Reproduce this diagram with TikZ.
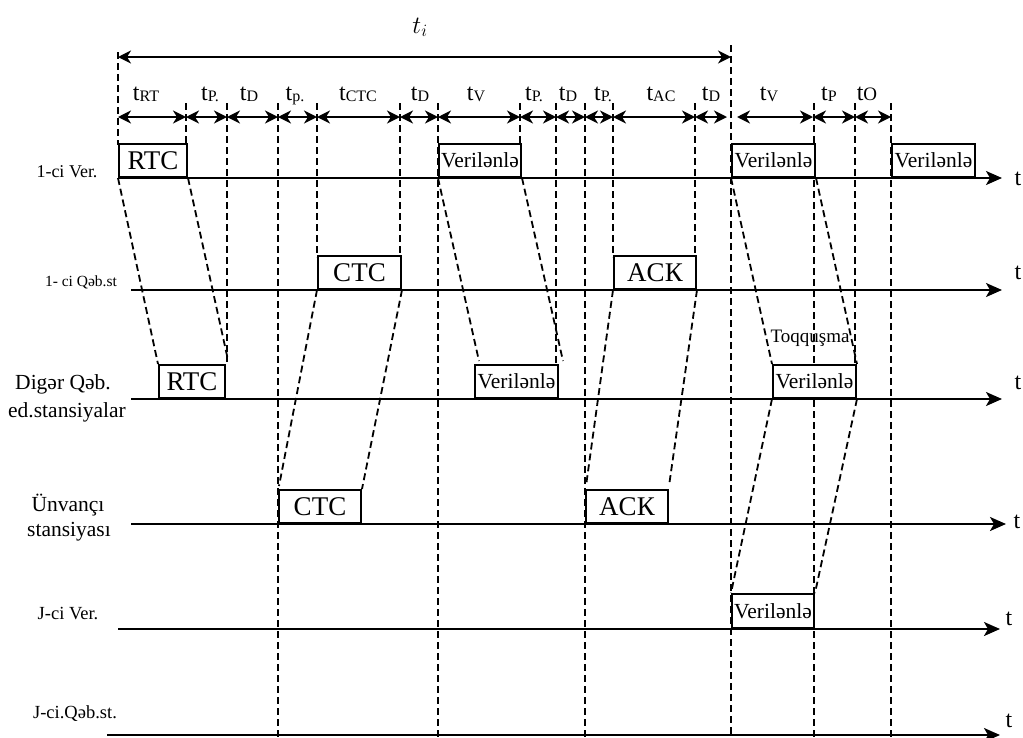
\documentclass[tikz,border=0pt]{standalone}
\usepackage{fontspec}
\setmainfont{Liberation Serif}
\usetikzlibrary{arrows.meta,calc}
\newcommand\myfs[1]{\fontsize{#1}{#1}\selectfont}
\newcommand\mysub[1]{\raisebox{-1.5pt}{\myfs{16}#1}}
\begin{document}
\begin{tikzpicture}[x=1pt,y=-1pt,
  axis/.style={line width=2pt,-{Stealth[length=16pt,width=14pt,inset=4pt]}},
  dim/.style={line width=1.8pt,{Stealth[length=13pt,width=13pt,inset=4pt]}-{Stealth[length=13pt,width=13pt,inset=4pt]}},
  vdash/.style={line width=1.8pt,dash pattern=on 7pt off 4pt},
  box/.style={draw,line width=2pt,fill=white,inner sep=0pt,anchor=south west,minimum height=33pt},
  bigtxt/.style={font=\myfs{27}},
  vtxt/.style={font=\myfs{21.5}},
  toplab/.style={anchor=base,inner sep=0pt,font=\myfs{24}},
  rowlab/.style={anchor=base,inner sep=0pt,align=center},
  tlab/.style={inner sep=0pt,font=\myfs{24}}
]
\useasboundingbox (0,0) rectangle (1023,737);

% vertical dashed guide lines
\foreach \x/\ya/\yb in {118/52/145,186/103/145,227/103/362,278/103/737,317/103/257,400/103/257,438/103/737,520/103/145,556/103/366,585/103/737,613/103/257,695/103/257,731/45/737,814/103/737,855/103/366,891/103/737}
  \draw[vdash] (\x,\ya) -- (\x,\yb);

% time axes
\coordinate (s1) at (118,178); \coordinate (e1) at (1002,178);
\coordinate (s2) at (131,290); \coordinate (e2) at (1002,290);
\coordinate (s3) at (131,399); \coordinate (e3) at (1002,399);
\coordinate (s4) at (131,524); \coordinate (e4) at (1006,524);
\coordinate (s5) at (118,629); \coordinate (e5) at (1000,629);
\coordinate (s6) at (107,735); \coordinate (e6) at (1000,735);
\foreach \i in {1,...,6} \draw[axis] (s\i) -- (e\i);
\node[tlab] (t1) at (1018,179) {t};
\node[tlab] (t2) at (1018,273) {t};
\node[tlab] (t3) at (1018,383) {t};
\node[tlab] (t4) at (1017,522) {t};
\node[tlab] (t5) at (1009,619) {t};
\node[tlab] (t6) at (1009,721) {t};

% boxes
\node[box,bigtxt,minimum width=68pt] (r1) at (118,178) {RTC};
\node[box,vtxt,minimum width=82pt] (v1a) at (438,178) {Verilənlə};
\node[box,vtxt,minimum width=83pt] (v1b) at (731,178) {Verilənlə};
\node[box,vtxt,minimum width=83pt] (v1c) at (891,178) {Verilənlə};
\node[box,bigtxt,minimum width=83pt] (c2) at (317,290) {CTC};
\node[box,bigtxt,minimum width=82pt] (a2) at (613,290) {ACК};
\node[box,bigtxt,minimum width=66pt] (r3) at (158,399) {RTC};
\node[box,vtxt,minimum width=83pt] (v3a) at (474,399) {Verilənlə};
\node[box,vtxt,minimum width=83pt] (v3b) at (772,399) {Verilənlə};
\node[box,bigtxt,minimum width=82pt] (c4) at (278,524) {CTC};
\node[box,bigtxt,minimum width=82pt] (a4) at (585,524) {ACК};
\node[box,vtxt,minimum width=82pt,minimum height=34pt] (v5) at (731,629) {Verilənlə};

% propagation slants
\draw[vdash] (r1.south west) -- (r3.north west);
\draw[vdash] (r1.south east) -- ([xshift=2pt,yshift=4pt]r3.north east);
\draw[vdash] (c2.south west) -- ([xshift=1pt,yshift=3pt]c4.north west);
\draw[vdash] (c2.south east) -- (c4.north east);
\draw[vdash] (v1a.south west) -- ([xshift=5pt,yshift=3pt]v3a.north west);
\draw[vdash] (v1a.south east) -- ([xshift=4pt,yshift=3pt]v3a.north east);
\draw[vdash] (a2.south west) -- ([xshift=1pt,yshift=3pt]a4.north west);
\draw[vdash] (a2.south east) -- ([yshift=3pt]a4.north east);
\draw[vdash] (v1b.south west) -- (v3b.north west);
\draw[vdash] (v1b.south east) -- (v3b.north east);
\draw[vdash] (v3b.south west) -- (v5.north west);
\draw[vdash] (v3b.south east) -- (v5.north east);

% overall interval
\coordinate (ti0) at (118,57); \coordinate (ti1) at (731,57);
\draw[dim] (ti0) -- (ti1);
\node[anchor=base,inner sep=0pt,font=\myfs{26}] (ti) at (420,33) {$t_i$};

% segment arrows
\foreach \a/\b in {118/186,186/227,227/278,278/317,317/400,400/438,438/520,520/556,556/585,585/613,613/695,695/727,737/813,813/855,855/891}
  \draw[dim] (\a,117) -- (\b,117);

% segment labels
\node[toplab] (l1) at (146,100) {t\mysub{RT}};
\node[toplab] (l2) at (210,100) {t\mysub{P.}};
\node[toplab] (l3) at (249,100) {t\mysub{D}};
\node[toplab] (l4) at (295,100) {t\mysub{p.}};
\node[toplab] (l5) at (358,100) {t\mysub{CTC}};
\node[toplab] (l6) at (420,100) {t\mysub{D}};
\node[toplab] (l7) at (476,100) {t\mysub{V}};
\node[toplab] (l8) at (534,100) {t\mysub{P.}};
\node[toplab] (l9) at (568,100) {t\mysub{D}};
\node[toplab] (l10) at (603,100) {t\mysub{P.}};
\node[toplab] (l11) at (661,100) {t\mysub{AC}};
\node[toplab] (l12) at (711,100) {t\mysub{D}};
\node[toplab] (l13) at (769,100) {t\mysub{V}};
\node[toplab] (l14) at (829,100) {t\mysub{P}};
\node[toplab] (l15) at (867,100) {t{\myfs{19}O}};

% row labels
\node[rowlab,font=\myfs{18}] (n1) at (67,177) {1-ci Ver.};
\node[rowlab,font=\myfs{15.5}] (n2) at (81,286) {1- ci Qəb.st};
\node[rowlab,font=\myfs{21.5}] (n3a) at (63,389) {Digər Qəb.};
\node[rowlab,font=\myfs{21.5}] (n3b) at (67,417) {ed.stansiyalar};
\node[rowlab,font=\myfs{21.5}] (n4a) at (68,511) {Ünvançı};
\node[rowlab,font=\myfs{21.5}] (n4b) at (69,536) {stansiyası};
\node[rowlab,font=\myfs{18.5}] (n5) at (68,619) {J-ci Ver.};
\node[rowlab,font=\myfs{18.5}] (n6) at (75,718) {J-ci.Qəb.st.};
\node[rowlab,font=\myfs{19}] (coll) at (810,342) {Toqquşma};
\end{tikzpicture}
\end{document}
